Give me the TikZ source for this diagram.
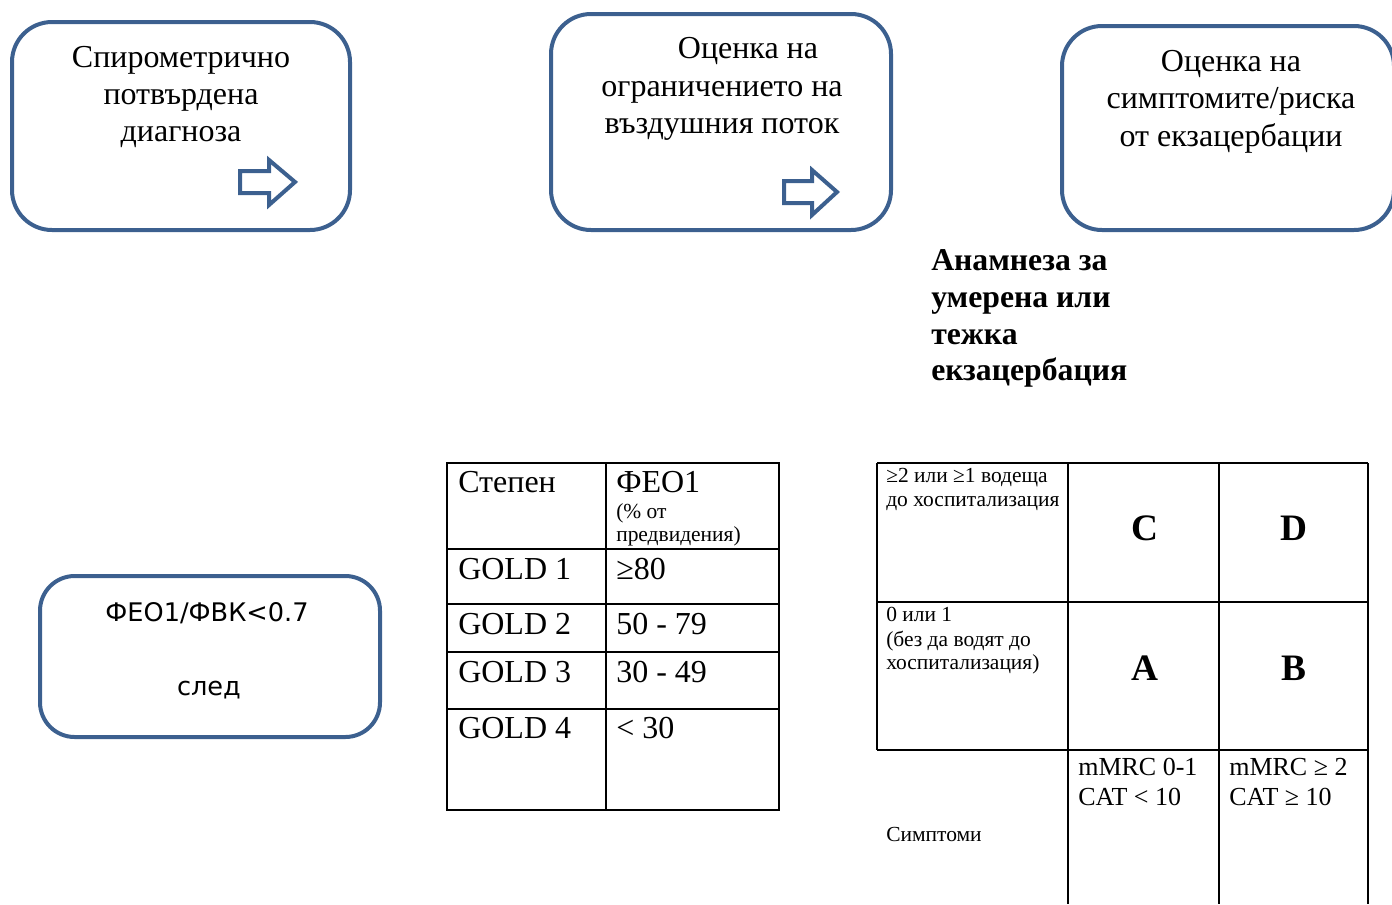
\documentclass[tikz,border=0pt]{standalone}
\usepackage{fontspec}
\setmainfont{Liberation Serif}
\newfontfamily\dvs{DejaVu Sans}
\definecolor{boxblue}{RGB}{60,96,143}
\begin{document}
\begin{tikzpicture}[x=0.75pt,y=-0.75pt,
  rbox/.style={draw=boxblue,line width=3pt,rounded corners=30pt,inner sep=0pt},
  bigtxt/.style={anchor=base,inner sep=0pt,font=\fontsize{24}{28}\selectfont},
  boldtxt/.style={anchor=base west,inner sep=0pt,font=\fontsize{23.8}{28}\selectfont\bfseries},
  cell/.style={anchor=base west,inner sep=0pt,font=\fontsize{24}{28}\selectfont},
  small/.style={anchor=base west,inner sep=0pt,font=\fontsize{16.1}{18}\selectfont},
  mid/.style={anchor=base west,inner sep=0pt,font=\fontsize{19.5}{22}\selectfont},
  letter/.style={inner sep=0pt,font=\fontsize{28}{32}\selectfont\bfseries},
  sanstxt/.style={anchor=base,inner sep=0pt,font=\fontsize{19.2}{22}\selectfont\dvs},
  blockarrow/.style={draw=boxblue,line width=3pt,line join=miter},
  grid/.style={draw=black,line width=1.5pt}]
\useasboundingbox (0,0) rectangle (1392,904);
\clip (0,0) rectangle (1392,904);

% top boxes
\node[rbox,minimum width=253.5pt,minimum height=156pt] (box1) at (181,126) {};
\node[bigtxt] (t1a) at (181,67) {Спирометрично};
\node[bigtxt] (t1b) at (181,104) {потвърдена};
\node[bigtxt] (t1c) at (181,141) {диагноза};
\draw[blockarrow] (240,171) -- (269,171) -- (269,160) -- (295,182) -- (269,205) -- (269,193) -- (240,193) -- cycle;

\node[rbox,minimum width=255pt,minimum height=162pt] (box2) at (721,122) {};
\node[bigtxt] (t2a) at (748,58) {Оценка на};
\node[bigtxt] (t2b) at (722,96) {ограничението на};
\node[bigtxt] (t2c) at (722,133) {въздушния поток};
\draw[blockarrow] (784,181) -- (812,181) -- (812,170) -- (837,192) -- (812,215) -- (812,203) -- (784,203) -- cycle;

\node[rbox,minimum width=249pt,minimum height=153pt] (box3) at (1228,128) {};
\node[bigtxt] (t3a) at (1231,71) {Оценка на};
\node[bigtxt] (t3b) at (1231,108) {симптомите/риска};
\node[bigtxt] (t3c) at (1231,146) {от екзацербации};

% bold heading
\node[boldtxt] (h1) at (931,270) {Анамнеза за};
\node[boldtxt] (h2) at (931,307) {умерена или};
\node[boldtxt] (h3) at (931,344) {тежка};
\node[boldtxt] (h4) at (931,380) {екзацербация};

% bottom-left box
\node[rbox,rounded corners=26pt,minimum width=255pt,minimum height=120.75pt] (box4) at (210,656.5) {};
\node[sanstxt] (s1) at (207,621) {ФЕО1/ФВК<0.7};
\node[sanstxt] (s2) at (209,695) {след};

% table 1
\draw[grid] (447,463) rectangle (779,810);
\draw[grid] (606,463) -- (606,810);
\foreach \yy in {549,604,652,709} \draw[grid] (447,\yy) -- (779,\yy);
\node[cell] (g0) at (458,492) {Степен};
\node[cell] (f0) at (616,492) {ФЕО1};
\node[small] (f0a) at (616,518) {(\% от};
\node[small] (f0b) at (616,541) {предвидения)};
\node[cell] (g1) at (458,579) {GOLD 1};
\node[cell] (f1) at (616,579) {≥80};
\node[cell] (g2) at (458,634) {GOLD 2};
\node[cell] (f2) at (616,634) {50 - 79};
\node[cell] (g3) at (458,682) {GOLD 3};
\node[cell] (f3) at (616,682) {30 - 49};
\node[cell] (g4) at (458,738) {GOLD 4};
\node[cell] (f4) at (616,738) {< 30};

% table 2
\draw[grid] (877,463) -- (1368,463);
\draw[grid] (877,602) -- (1368,602);
\draw[grid] (877,750) -- (1368,750);
\draw[grid] (877,463) -- (877,750);
\foreach \xx in {1068,1219,1368} \draw[grid] (\xx,463) -- (\xx,904);
\node[small] (r1a) at (886,482) {≥2 или ≥1 водеща};
\node[small] (r1b) at (886,506) {до хоспитализация};
\node[small] (r2a) at (886,621) {0 или 1};
\node[small] (r2b) at (886,646) {(без да водят до};
\node[small] (r2c) at (886,669) {хоспитализация)};
\node[small] (sym) at (886,841) {Симптоми};
\node[letter] (lC) at (1145,528) {C};
\node[letter] (lD) at (1294,528) {D};
\node[letter] (lA) at (1145,668) {A};
\node[letter] (lB) at (1294,668) {B};
\node[mid] (m1a) at (1078,775) {mMRC 0-1};
\node[mid] (m1b) at (1078,805) {CAT < 10};
\node[mid] (m2a) at (1229,775) {mMRC ≥ 2};
\node[mid] (m2b) at (1229,805) {CAT ≥ 10};
\end{tikzpicture}
\end{document}
